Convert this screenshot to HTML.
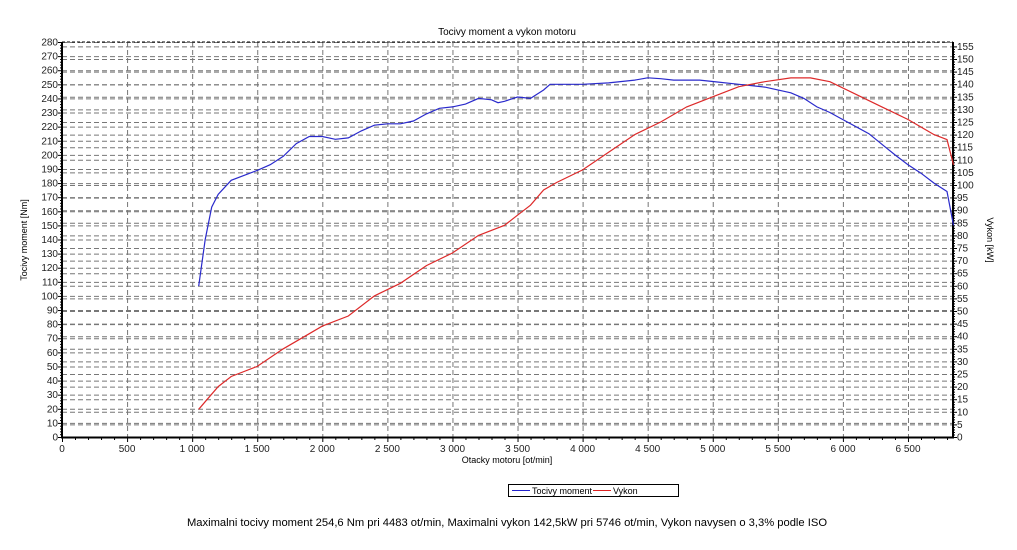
<!DOCTYPE html>
<html><head><meta charset="utf-8"><style>
body{margin:0;background:#fff;width:1017px;height:545px;overflow:hidden}
svg{font-family:"Liberation Sans",sans-serif;font-size:10px}
</style></head><body>
<svg id="s" width="1017" height="545" xmlns="http://www.w3.org/2000/svg">
<g id="grid"></g>
<text x="507" y="35" text-anchor="middle" font-size="10">Tocivy moment a vykon motoru</text>
<g text-anchor="end" fill="#222">
<text x="58" y="440.5">0</text><text x="58" y="426.4">10</text><text x="58" y="412.3">20</text><text x="58" y="398.2">30</text><text x="58" y="384.1">40</text><text x="58" y="370">50</text><text x="58" y="355.9">60</text><text x="58" y="341.7">70</text><text x="58" y="327.6">80</text><text x="58" y="313.5">90</text><text x="58" y="299.4">100</text><text x="58" y="285.3">110</text><text x="58" y="271.2">120</text><text x="58" y="257.1">130</text><text x="58" y="243">140</text><text x="58" y="228.9">150</text><text x="58" y="214.8">160</text><text x="58" y="200.7">170</text><text x="58" y="186.6">180</text><text x="58" y="172.5">190</text><text x="58" y="158.4">200</text><text x="58" y="144.3">210</text><text x="58" y="130.1">220</text><text x="58" y="116">230</text><text x="58" y="101.9">240</text><text x="58" y="87.8">250</text><text x="58" y="73.7">260</text><text x="58" y="59.6">270</text><text x="58" y="45.5">280</text>
</g>
<g fill="#222">
<text x="957" y="440.5">0</text><text x="957" y="427.9">5</text><text x="957" y="415.3">10</text><text x="957" y="402.7">15</text><text x="957" y="390.1">20</text><text x="957" y="377.5">25</text><text x="957" y="364.9">30</text><text x="957" y="352.3">35</text><text x="957" y="339.7">40</text><text x="957" y="327.1">45</text><text x="957" y="314.5">50</text><text x="957" y="301.9">55</text><text x="957" y="289.3">60</text><text x="957" y="276.7">65</text><text x="957" y="264.1">70</text><text x="957" y="251.5">75</text><text x="957" y="238.9">80</text><text x="957" y="226.3">85</text><text x="957" y="213.7">90</text><text x="957" y="201.1">95</text><text x="957" y="188.5">100</text><text x="957" y="175.9">105</text><text x="957" y="163.3">110</text><text x="957" y="150.7">115</text><text x="957" y="138.1">120</text><text x="957" y="125.5">125</text><text x="957" y="112.9">130</text><text x="957" y="100.3">135</text><text x="957" y="87.7">140</text><text x="957" y="75.1">145</text><text x="957" y="62.5">150</text><text x="957" y="49.9">155</text>
</g>
<g text-anchor="middle" fill="#222">
<text x="62" y="452">0</text><text x="127.1" y="452">500</text><text x="192.2" y="452">1 000</text><text x="257.2" y="452">1 500</text><text x="322.3" y="452">2 000</text><text x="387.4" y="452">2 500</text><text x="452.5" y="452">3 000</text><text x="517.6" y="452">3 500</text><text x="582.6" y="452">4 000</text><text x="647.7" y="452">4 500</text><text x="712.8" y="452">5 000</text><text x="777.9" y="452">5 500</text><text x="843" y="452">6 000</text><text x="908" y="452">6 500</text>
</g>
<text x="507" y="463" text-anchor="middle" font-size="9">Otacky motoru [ot/min]</text>
<text transform="translate(27,240) rotate(-90)" text-anchor="middle" font-size="9">Tocivy moment [Nm]</text>
<text transform="translate(987,240) rotate(90)" text-anchor="middle" font-size="9">Vykon [kW]</text>
<rect x="508.5" y="484.5" width="170" height="12" fill="#fff" stroke="#000"/>
<line x1="512" y1="490.5" x2="530" y2="490.5" stroke="#2222cc"/>
<text x="532" y="494" font-size="9">Tocivy moment</text>
<line x1="593" y1="490.5" x2="611" y2="490.5" stroke="#dd2222"/>
<text x="613" y="494" font-size="9">Vykon</text>
<text x="507" y="526" text-anchor="middle" font-size="11.2">Maximalni tocivy moment 254,6 Nm pri 4483 ot/min,  Maximalni vykon 142,5kW pri 5746 ot/min,  Vykon navysen o 3,3% podle ISO</text>
</svg>
<script>
const g=document.getElementById('grid'),NS='http://www.w3.org/2000/svg';
function ln(x1,y1,x2,y2,st){const l=document.createElementNS(NS,'line');l.setAttribute('x1',x1);l.setAttribute('y1',y1);l.setAttribute('x2',x2);l.setAttribute('y2',y2);for(const k in st)l.setAttribute(k,st[k]);g.appendChild(l);}
const X=r=>62+r*0.13015, YT=v=>437-v*1.4107, YP=v=>437-v*2.52;
const ds={stroke:'#777','stroke-dasharray':'5,3','stroke-width':1};
for(let v=10;v<=280;v+=10)ln(62,YT(v)+.5,953,YT(v)+.5,ds);
for(let v=5;v<=155;v+=5)ln(62,YP(v)+.5,953,YP(v)+.5,ds);
for(let r=500;r<=6500;r+=500)ln(X(r)+.5,42,X(r)+.5,437,ds);
for(let r=0;r<=6800;r+=100)ln(X(r)+.5,437,X(r)+.5,r%500?440:442,{stroke:'#000'});
for(let v=0;v<=280;v+=2)ln(v%10?60:58,YT(v)+.5,62,YT(v)+.5,{stroke:'#000'});
for(let v=0;v<=155;v+=1)ln(953,YP(v)+.5,v%5?955:957,YP(v)+.5,{stroke:'#000'});
ln(62,42,62,438,{stroke:'#000','stroke-width':2});ln(953,42,953,438,{stroke:'#000','stroke-width':2});
ln(61,437.5,954,437.5,{stroke:'#000','stroke-width':2});ln(62,42,953,42,{stroke:'#000','stroke-dasharray':'3,2'});
function poly(pts,f,c){const p=document.createElementNS(NS,'polyline');p.setAttribute('points',pts.map(a=>X(a[0]).toFixed(1)+','+f(a[1]).toFixed(1)).join(' '));p.setAttribute('fill','none');p.setAttribute('stroke',c);p.setAttribute('stroke-width',1.2);g.parentNode.appendChild(p);}
poly([[1050,107],[1100,140],[1150,163],[1200,172],[1300,182],[1500,189],[1600,193],[1700,199],[1800,208],[1900,213],[2000,213],[2100,211],[2200,212],[2300,217],[2400,221],[2500,222],[2600,222],[2700,224],[2800,229],[2900,233],[3000,234],[3100,236],[3200,240],[3300,239],[3350,237],[3400,238],[3500,241],[3600,240],[3700,246],[3750,250],[3800,250],[4000,250],[4200,251],[4400,253],[4500,254.6],[4600,254],[4700,253],[4900,253],[5000,252],[5200,250],[5400,248],[5600,244],[5700,240],[5800,234],[5900,230],[6000,225],[6200,215],[6400,200],[6500,193],[6600,187],[6700,180],[6800,174],[6850,150]],YT,'#2a2acc');
poly([[1050,11],[1100,14],[1200,20],[1300,24],[1500,28],[1700,35],[1900,41],[2000,44],[2200,48],[2400,56],[2600,61],[2800,68],[3000,73],[3200,80],[3400,84],[3500,88],[3600,92],[3700,98],[3800,101],[4000,106],[4200,113],[4400,120],[4600,125],[4800,131],[5000,135],[5200,139],[5400,141],[5600,142.5],[5750,142.5],[5900,141],[6100,136],[6300,131],[6500,126],[6700,120],[6800,118],[6850,108]],YP,'#dd2a2a');
</script>
</body></html>
